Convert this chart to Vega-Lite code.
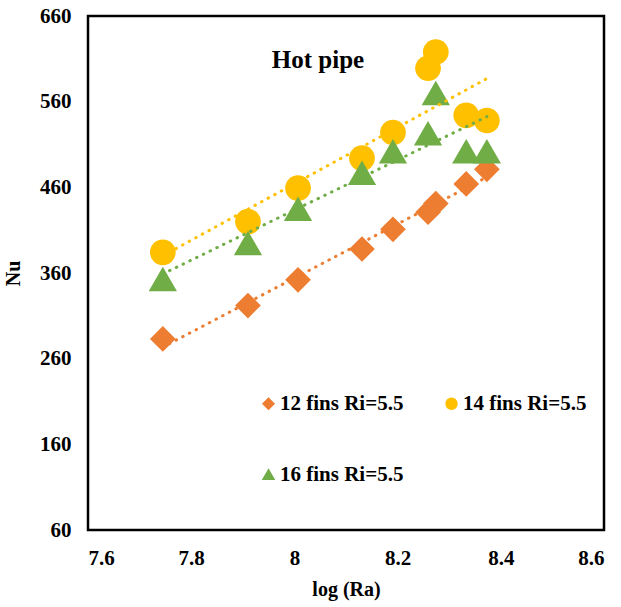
{
  "$schema": "https://vega.github.io/schema/vega-lite/v6.json",
  "width": 516,
  "height": 514,
  "autosize": {"type": "none"},
  "padding": {"left": 88, "top": 16, "right": 17, "bottom": 77},
  "background": "white",
  "title": {"text": "Hot pipe", "font": "Liberation Serif", "fontSize": 25, "fontWeight": "bold", "color": "black", "anchor": "middle", "frame": "group", "orient": "top", "dx": -28, "dy": 72},
  "config": {
    "view": {"stroke": "black", "strokeWidth": 2.5},
    "axis": {"labelFont": "Liberation Serif", "labelFontWeight": "bold", "labelFontSize": 21, "labelColor": "black", "titleFont": "Liberation Serif", "titleFontWeight": "bold", "titleFontSize": 20, "titleColor": "black", "ticks": false, "grid": false, "domain": false},
    "legend": {"labelFont": "Liberation Serif", "labelFontWeight": "bold", "labelFontSize": 21, "labelColor": "black", "symbolSize": 120, "labelLimit": 300, "labelOffset": 1}
  },
  "data": {"values": [
    {"series": "12 fins Ri=5.5", "ra": 7.745, "nu": 283},
    {"series": "12 fins Ri=5.5", "ra": 7.910, "nu": 322},
    {"series": "12 fins Ri=5.5", "ra": 8.007, "nu": 352},
    {"series": "12 fins Ri=5.5", "ra": 8.131, "nu": 388},
    {"series": "12 fins Ri=5.5", "ra": 8.191, "nu": 411},
    {"series": "12 fins Ri=5.5", "ra": 8.259, "nu": 431},
    {"series": "12 fins Ri=5.5", "ra": 8.274, "nu": 441},
    {"series": "12 fins Ri=5.5", "ra": 8.333, "nu": 464},
    {"series": "12 fins Ri=5.5", "ra": 8.373, "nu": 481},
    {"series": "14 fins Ri=5.5", "ra": 7.745, "nu": 384},
    {"series": "14 fins Ri=5.5", "ra": 7.910, "nu": 420},
    {"series": "14 fins Ri=5.5", "ra": 8.007, "nu": 459},
    {"series": "14 fins Ri=5.5", "ra": 8.131, "nu": 494},
    {"series": "14 fins Ri=5.5", "ra": 8.191, "nu": 524},
    {"series": "14 fins Ri=5.5", "ra": 8.259, "nu": 599},
    {"series": "14 fins Ri=5.5", "ra": 8.274, "nu": 618},
    {"series": "14 fins Ri=5.5", "ra": 8.333, "nu": 544},
    {"series": "14 fins Ri=5.5", "ra": 8.373, "nu": 538},
    {"series": "16 fins Ri=5.5", "ra": 7.745, "nu": 353},
    {"series": "16 fins Ri=5.5", "ra": 7.910, "nu": 395},
    {"series": "16 fins Ri=5.5", "ra": 8.007, "nu": 435},
    {"series": "16 fins Ri=5.5", "ra": 8.131, "nu": 477},
    {"series": "16 fins Ri=5.5", "ra": 8.191, "nu": 502},
    {"series": "16 fins Ri=5.5", "ra": 8.259, "nu": 523},
    {"series": "16 fins Ri=5.5", "ra": 8.274, "nu": 570},
    {"series": "16 fins Ri=5.5", "ra": 8.333, "nu": 502},
    {"series": "16 fins Ri=5.5", "ra": 8.373, "nu": 502}
  ]},
  "encoding": {
    "x": {"field": "ra", "type": "quantitative", "scale": {"domain": [7.6, 8.6], "nice": false, "zero": false}, "axis": {"values": [7.6, 7.8, 8, 8.2, 8.4, 8.6], "format": "~g", "title": "log (Ra)", "labelPadding": 17, "titlePadding": 11}},
    "y": {"field": "nu", "type": "quantitative", "scale": {"domain": [60, 660], "nice": false, "zero": false}, "axis": {"values": [60, 160, 260, 360, 460, 560, 660], "title": "Nu", "labelPadding": 17, "titlePadding": 16}},
    "color": {"field": "series", "type": "nominal", "scale": {"domain": ["12 fins Ri=5.5", "14 fins Ri=5.5", "16 fins Ri=5.5"], "range": ["#ED7D31", "#FFC000", "#70AD47"]}, "legend": {"title": null, "orient": "none", "direction": "horizontal", "legendX": 170, "legendY": 377, "columns": 2, "columnPadding": 37, "rowPadding": 49, "padding": 0, "symbolOpacity": 1}}
  },
  "layer": [
    {
      "mark": {"type": "point", "filled": true, "opacity": 1},
      "encoding": {
        "shape": {"field": "series", "type": "nominal", "scale": {"domain": ["12 fins Ri=5.5", "14 fins Ri=5.5", "16 fins Ri=5.5"], "range": ["diamond", "circle", "triangle-up"]}},
        "size": {"condition": {"test": "datum.series === '16 fins Ri=5.5'", "value": 800}, "value": 660}
      }
    },
    {
      "transform": [{"regression": "nu", "on": "ra", "groupby": ["series"]}],
      "mark": {"type": "line", "strokeWidth": 3, "strokeDash": [0.5, 7], "strokeCap": "round"},
      "encoding": {}
    }
  ]
}
